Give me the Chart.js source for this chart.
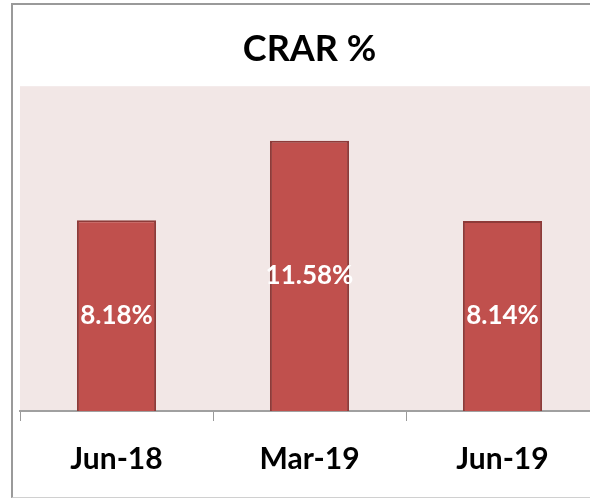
<!DOCTYPE html>
<html>
<head>
<meta charset="utf-8">
<script src="https://cdn.jsdelivr.net/npm/chart.js@4.4.0/dist/chart.umd.min.js"></script>
<style>
  html, body { margin: 0; padding: 0; background: #fff; overflow: hidden; width: 590px; height: 500px; }
  #frame {
    position: absolute; left: 11px; top: 3px;
    width: 610px; height: 492px;
    border-left: 2px solid #9a9a9a; border-top: 2px solid #9a9a9a; border-bottom: 1px solid #d0d0d0;
  }
  canvas { display: block; }
</style>
</head>
<body>
<div id="frame"><canvas id="crarChart" width="610" height="492"></canvas></div>
<script>
// CRAR % by quarter
const periods = ['Jun-18', 'Mar-19', 'Jun-19'];
const crarValues = [8.18, 11.58, 8.14];

// pink plot background
const plotBg = {
  id: 'plotBg',
  beforeDraw(chart) {
    const a = chart.chartArea;
    const ctx = chart.ctx;
    ctx.save();
    ctx.fillStyle = '#F2E7E6';
    ctx.fillRect(a.left, a.top, a.right - a.left, a.bottom - a.top);
    ctx.restore();
  }
};

// value labels in the middle of each bar
const barLabels = {
  id: 'barLabels',
  afterDatasetsDraw(chart) {
    const ctx = chart.ctx;
    const meta = chart.getDatasetMeta(0);
    ctx.save();
    ctx.fillStyle = '#ffffff';
    ctx.font = 'bold 26px Lato';
    ctx.textAlign = 'center';
    ctx.textBaseline = 'middle';
    meta.data.forEach(function(bar, i) {
      const mid = (bar.y + bar.base) / 2;
      ctx.fillText(crarValues[i].toFixed(2) + '%', bar.x, mid);
    });
    ctx.restore();
  }
};

const ctx = document.getElementById('crarChart').getContext('2d');
new Chart(ctx, {
  type: 'bar',
  data: {
    labels: periods,
    datasets: [{
      label: 'CRAR %',
      data: crarValues,
      backgroundColor: '#C0504D',
      borderColor: '#8E3B39',
      borderWidth: 2,
      barPercentage: 0.41,
      categoryPercentage: 1
    }]
  },
  options: {
    responsive: false,
    animation: false,
    layout: { padding: { left: 7, right: 24, top: 0, bottom: 0 } },
    plugins: {
      legend: { display: false },
      tooltip: { enabled: false },
      title: {
        display: true,
        text: 'CRAR %',
        color: '#000',
        font: { family: 'Lato', size: 36, weight: 'bold', lineHeight: 1.2 },
        padding: { top: 23, bottom: 15 }
      }
    },
    scales: {
      y: { display: false, min: 0, max: 13.92 },
      x: {
        grid: { display: true, offset: true, drawOnChartArea: false, drawTicks: true, tickLength: 10, color: '#9a9a9a', lineWidth: 1 },
        border: { display: true, color: '#a0a0a0', width: 2 },
        ticks: { color: '#000', padding: 20, font: { family: 'Lato', size: 30, weight: 'bold' } },
        afterFit(scale) { scale.height = 86; }
      }
    }
  },
  plugins: [plotBg, barLabels]
});
</script>
</body>
</html>
